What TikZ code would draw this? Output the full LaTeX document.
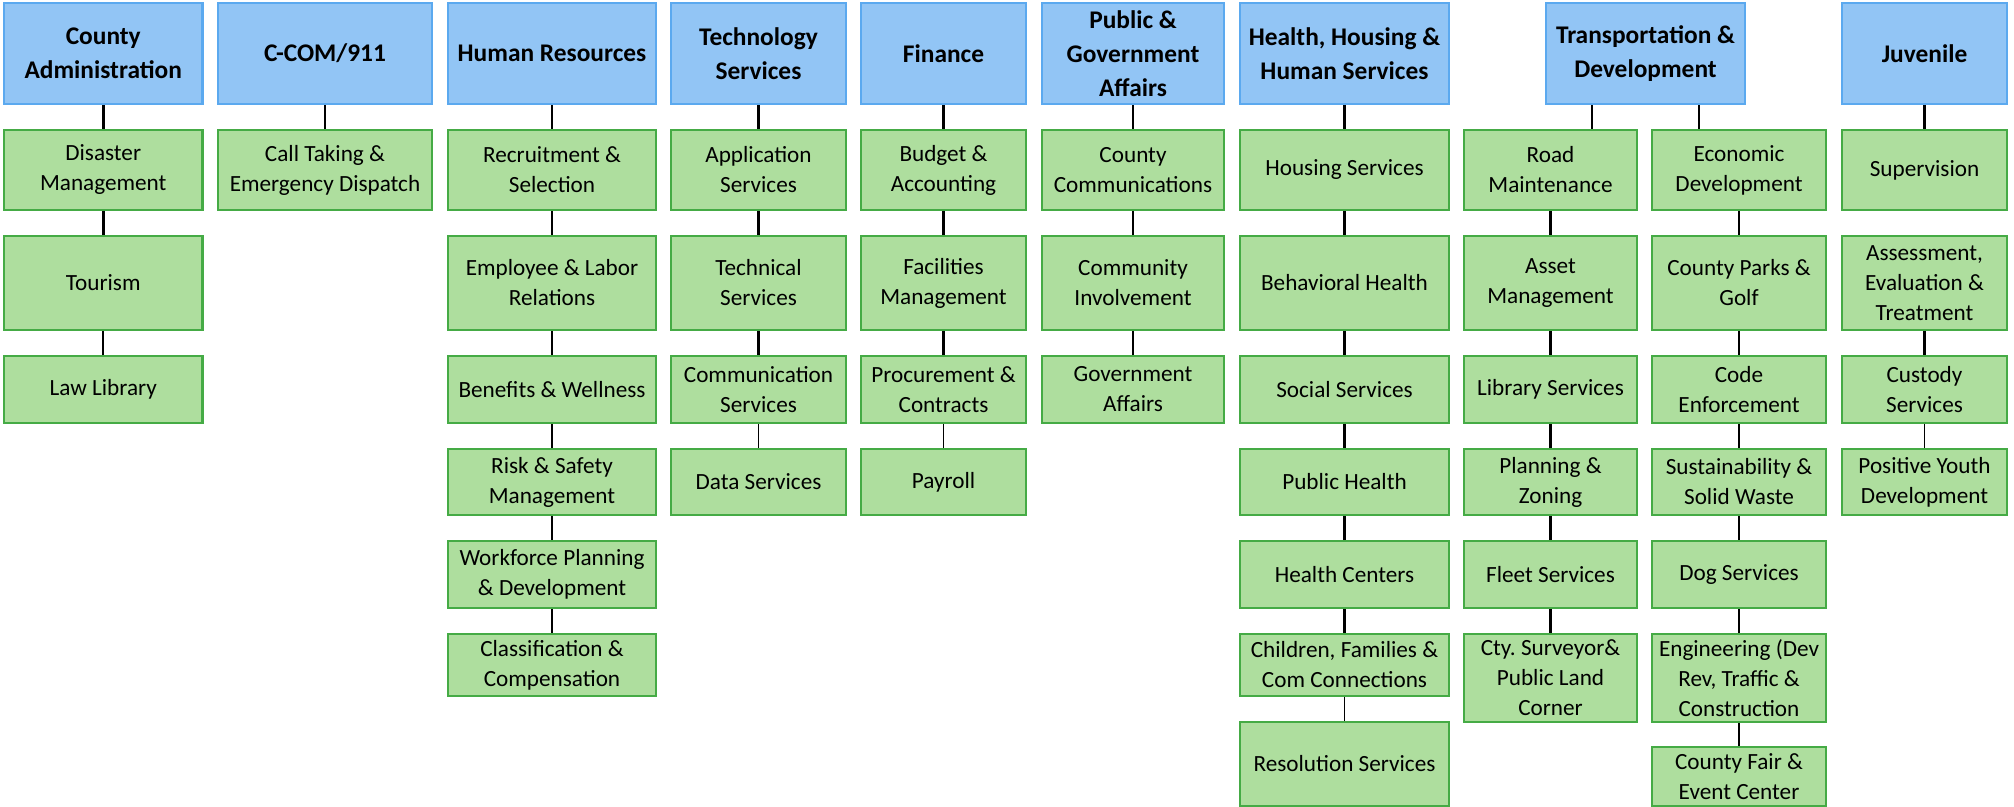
\documentclass[tikz,border=0pt]{standalone}
\usepackage{fontspec}
\setmainfont{Carlito}

\definecolor{deptfill}{HTML}{92C5F5}
\definecolor{deptline}{HTML}{5BA9EF}
\definecolor{unitfill}{HTML}{AEDE9E}
\definecolor{unitline}{HTML}{45AB45}

\tikzset{
  dept/.style={draw=deptline, fill=deptfill, line width=1.2pt, inner sep=0pt,
    align=center, minimum height=50.5pt,
    font=\fontsize{12.7}{17}\selectfont\bfseries},
  unit/.style={draw=unitline, fill=unitfill, line width=1.2pt, inner sep=0pt,
    align=center, font=\fontsize{11.6}{15}\selectfont},
  % row heights
  rowa/.style={minimum height=40pt},
  rowb/.style={minimum height=47pt},
  rowc/.style={minimum height=33.5pt},
  rowd/.style={minimum height=33pt},
  rowe/.style={minimum height=33.5pt},
  rowf/.style={minimum height=31pt},
  rowg/.style={minimum height=44pt},
  rowh/.style={minimum height=42pt},
  rowi/.style={minimum height=29.5pt},
  link/.style={line width=1.4pt},
  thinlink/.style={line width=0.8pt}
}

\begin{document}
\begin{tikzpicture}[x=0.5pt, y=-0.5pt]
  \useasboundingbox (0,0) rectangle (2014,807);

  % County Administration
  \begin{scope}[minimum width=99.25pt]
  \node[dept] (admin) at (103.25,53.5) {County\\Administration};
  \node[unit,rowa] (disaster) at (103.25,170) {Disaster\\Management};
  \node[unit,rowb] (tourism) at (103.25,283) {Tourism};
  \node[unit,rowc] (lawlib) at (103.25,389.5) {Law Library};
  \end{scope}

  % C-COM
  \begin{scope}[minimum width=107pt]
  \node[dept] (ccom) at (325,53.5) {C-COM/911};
  \node[unit,rowa] (calltaking) at (325,170) {Call Taking \&\\Emergency Dispatch};
  \end{scope}

  % Human Resources
  \begin{scope}[minimum width=104pt]
  \node[dept] (hr) at (552,53.5) {Human Resources};
  \node[unit,rowa] (recruit) at (552,170) {Recruitment \&\\Selection};
  \node[unit,rowb] (labor) at (552,283) {Employee \& Labor\\Relations};
  \node[unit,rowc] (benefits) at (552,389.5) {Benefits \& Wellness};
  \node[unit,rowd] (risk) at (552,482) {Risk \& Safety\\Management};
  \node[unit,rowe] (workforce) at (552,574.5) {Workforce Planning\\\& Development};
  \node[unit,rowf] (classif) at (552,665) {Classification \&\\Compensation};
  \end{scope}

  % Technology Services
  \begin{scope}[minimum width=87.5pt]
  \node[dept] (tech) at (758.5,53.5) {Technology\\Services};
  \node[unit,rowa] (apps) at (758.5,170) {Application\\Services};
  \node[unit,rowb] (techsvc) at (758.5,283) {Technical\\Services};
  \node[unit,rowc] (comms) at (758.5,389.5) {Communication\\Services};
  \node[unit,rowd] (data) at (758.5,482) {Data Services};
  \end{scope}

  % Finance
  \begin{scope}[minimum width=82.5pt]
  \node[dept] (finance) at (943.5,53.5) {Finance};
  \node[unit,rowa] (budget) at (943.5,170) {Budget \&\\Accounting};
  \node[unit,rowb] (facilities) at (943.5,283) {Facilities\\Management};
  \node[unit,rowc] (procure) at (943.5,389.5) {Procurement \&\\Contracts};
  \node[unit,rowd] (payroll) at (943.5,482) {Payroll};
  \end{scope}

  % Public & Government Affairs
  \begin{scope}[minimum width=91pt]
  \node[dept] (public) at (1133,53.5) {Public \&\\Government\\Affairs};
  \node[unit,rowa] (countycomm) at (1133,170) {County\\Communications};
  \node[unit,rowb] (involve) at (1133,283) {Community\\Involvement};
  \node[unit,rowc] (govaff) at (1133,389.5) {Government\\Affairs};
  \end{scope}

  % Health, Housing & Human Services
  \begin{scope}[minimum width=104.5pt]
  \node[dept] (hhs) at (1344.5,53.5) {Health, Housing \&\\Human Services};
  \node[unit,rowa] (housing) at (1344.5,170) {Housing Services};
  \node[unit,rowb] (behavioral) at (1344.5,283) {Behavioral Health};
  \node[unit,rowc] (social) at (1344.5,389.5) {Social Services};
  \node[unit,rowd] (pubhealth) at (1344.5,482) {Public Health};
  \node[unit,rowe] (centers) at (1344.5,574.5) {Health Centers};
  \node[unit,rowf] (children) at (1344.5,665) {Children, Families \&\\Com Connections};
  \node[unit,rowh] (resolution) at (1344.5,764) {Resolution Services};
  \end{scope}

  % Transportation & Development
  \node[dept,minimum width=99.5pt] (trans) at (1645.5,53.5) {Transportation \&\\Development};

  \begin{scope}[minimum width=86.5pt]
  \node[unit,rowa] (road) at (1550.5,170) {Road\\Maintenance};
  \node[unit,rowb] (asset) at (1550.5,283) {Asset\\Management};
  \node[unit,rowc] (library) at (1550.5,389.5) {Library Services};
  \node[unit,rowd] (planning) at (1550.5,482) {Planning \&\\Zoning};
  \node[unit,rowe] (fleet) at (1550.5,574.5) {Fleet Services};
  \node[unit,rowg] (surveyor) at (1550.5,678) {Cty.\ Surveyor\&\\Public Land\\Corner};
  \end{scope}

  \begin{scope}[minimum width=87pt]
  \node[unit,rowa] (econ) at (1739,170) {Economic\\Development};
  \node[unit,rowb] (parks) at (1739,283) {County Parks \&\\Golf};
  \node[unit,rowc] (code) at (1739,389.5) {Code\\Enforcement};
  \node[unit,rowd] (sustain) at (1739,482) {Sustainability \&\\Solid Waste};
  \node[unit,rowe] (dog) at (1739,574.5) {Dog Services};
  \node[unit,rowg] (engineering) at (1739,678) {Engineering (Dev\\Rev, Traffic \&\\Construction};
  \node[unit,rowi] (fair) at (1739,776.5) {County Fair \&\\Event Center};
  \end{scope}

  % Juvenile
  \begin{scope}[minimum width=82.5pt]
  \node[dept] (juvenile) at (1924.5,53.5) {Juvenile};
  \node[unit,rowa] (supervision) at (1924.5,170) {Supervision};
  \node[unit,rowb] (assess) at (1924.5,283) {Assessment,\\Evaluation \&\\Treatment};
  \node[unit,rowc] (custody) at (1924.5,389.5) {Custody\\Services};
  \node[unit,rowd] (youth) at (1924.5,482) {Positive Youth\\Development};
  \end{scope}

  % connectors
  \draw[link] (admin) -- (disaster);
  \draw[link] (disaster) -- (tourism);
  \draw[thinlink] (tourism) -- (lawlib);

  \draw[thinlink] (ccom) -- (calltaking);

  \draw[link] (hr) -- (recruit);
  \draw[link] (recruit) -- (labor);
  \draw[link] (labor) -- (benefits);
  \draw[link] (benefits) -- (risk);
  \draw[link] (risk) -- (workforce);
  \draw[thinlink] (workforce) -- (classif);

  \draw[link] (tech) -- (apps);
  \draw[link] (apps) -- (techsvc);
  \draw[link] (techsvc) -- (comms);
  \draw[thinlink] (comms) -- (data);

  \draw[link] (finance) -- (budget);
  \draw[link] (budget) -- (facilities);
  \draw[link] (facilities) -- (procure);
  \draw[thinlink] (procure) -- (payroll);

  \draw[link] (public) -- (countycomm);
  \draw[link] (countycomm) -- (involve);
  \draw[thinlink] (involve) -- (govaff);

  \draw[link] (hhs) -- (housing);
  \draw[link] (housing) -- (behavioral);
  \draw[link] (behavioral) -- (social);
  \draw[link] (social) -- (pubhealth);
  \draw[link] (pubhealth) -- (centers);
  \draw[link] (centers) -- (children);
  \draw[thinlink] (children) -- (resolution);

  \draw[link] ([xshift=20.75pt]road.north) -- ([xshift=20.75pt]road.north |- trans.south);
  \draw[link] (road) -- (asset);
  \draw[link] (asset) -- (library);
  \draw[link] (library) -- (planning);
  \draw[link] (planning) -- (fleet);
  \draw[link] (fleet) -- (surveyor);

  \draw[thinlink] ([xshift=-20pt]econ.north) -- ([xshift=-20pt]econ.north |- trans.south);
  \draw[link] (econ) -- (parks);
  \draw[link] (parks) -- (code);
  \draw[link] (code) -- (sustain);
  \draw[link] (sustain) -- (dog);
  \draw[link] (dog) -- (engineering);
  \draw[link] (engineering) -- (fair);

  \draw[link] (juvenile) -- (supervision);
  \draw[link] (assess) -- (custody);
  \draw[thinlink] (custody) -- (youth);
\end{tikzpicture}
\end{document}
